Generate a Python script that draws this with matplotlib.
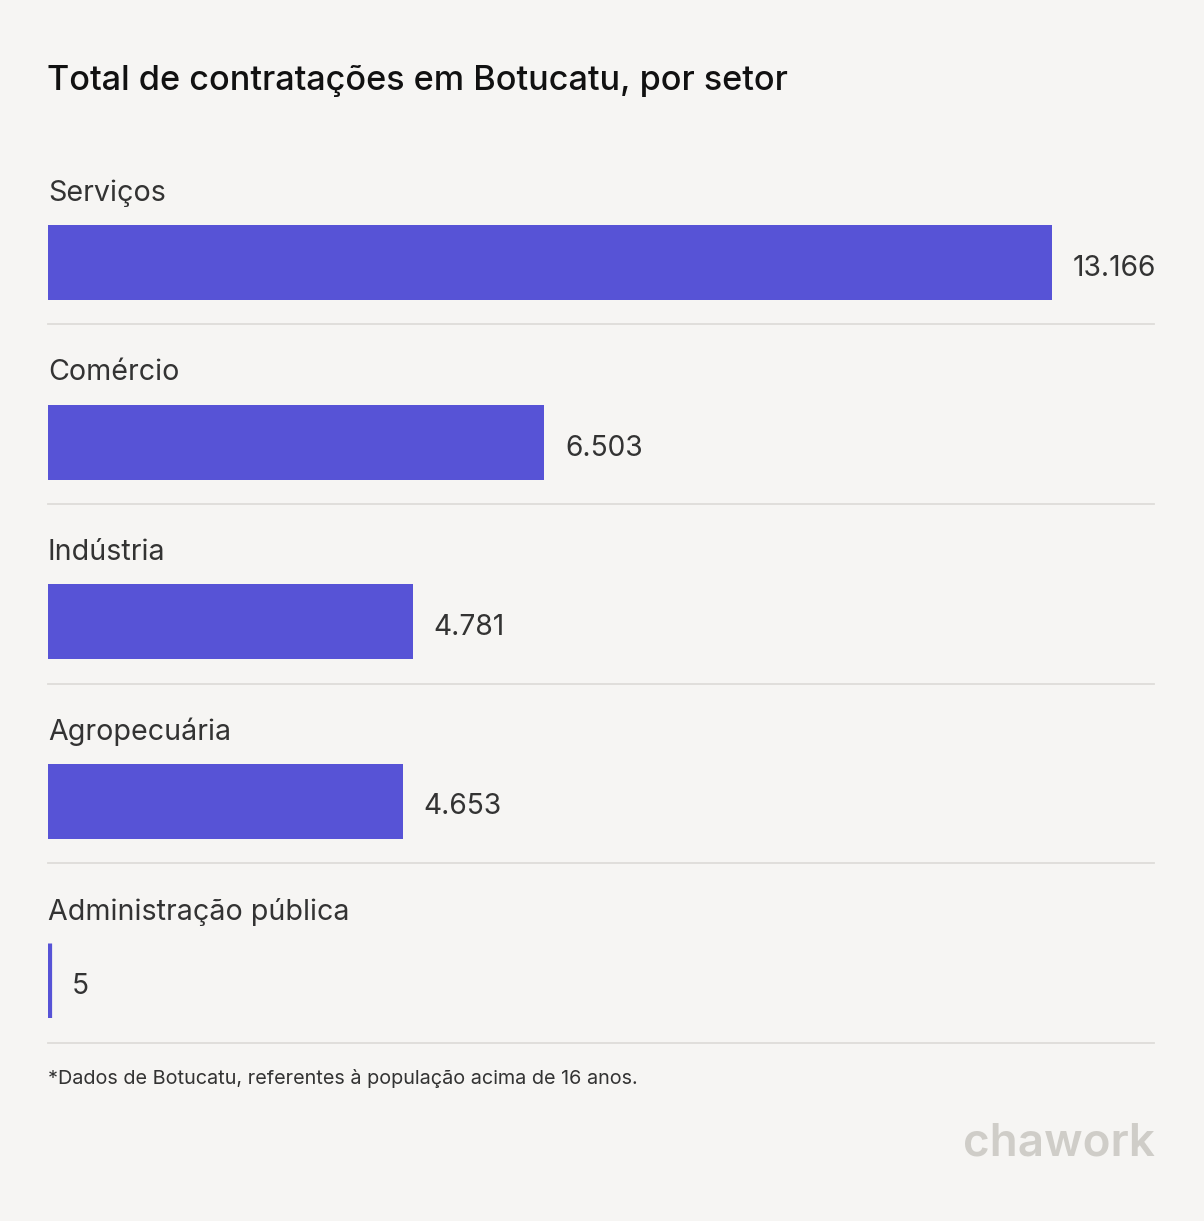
import matplotlib
matplotlib.use("Agg")
import matplotlib.pyplot as plt
from matplotlib.lines import Line2D
from matplotlib.patches import Rectangle

plt.rcParams['font.family'] = ['Inter', 'DejaVu Sans']

categories = ["Serviços", "Comércio", "Indústria", "Agropecuária", "Administração pública"]
values = [13166, 6503, 4781, 4653, 5]
value_labels = ["13.166", "6.503", "4.781", "4.653", "5"]
title = "Total de contratações em Botucatu, por setor"
footnote = "*Dados de Botucatu, referentes à população acima de 16 anos."
brand = "chawork"

W, H = 1204, 1221
BG = "#F6F5F3"
BAR = "#5753D6"
TXT = "#333333"
SEP = "#DEDCD9"

fig = plt.figure(figsize=(W / 100, H / 100), dpi=100, facecolor=BG)
ax = fig.add_axes([48 / W, 0, 1004 / W, 1], facecolor="none")
ax.set_xlim(0, max(values))
ax.set_ylim(H, 0)
ax.axis("off")

step = 179.5
first_center = 262.5
bar_h = 75
centers = [first_center + i * step for i in range(len(categories))]

bars = ax.barh(centers, values, height=bar_h, color=BAR, left=0, linewidth=0)
# outline gives tiny bars a visible minimum width (clipped to the bar's own band)
for rect, v, c in zip(bars, values, centers):
    if v < 0.005 * max(values):
        rect.set_edgecolor(BAR)
        rect.set_linewidth(5.2)
        clip = Rectangle((0, c - bar_h / 2), max(values), bar_h, transform=ax.transData)
        rect.set_clip_path(clip)

px_per_val = max(values) / 1004
for c, v, lab, cat in zip(centers, values, value_labels, categories):
    ax.text(v + 21 * px_per_val + (2 if v < 100 else 0) * px_per_val, c + 6, lab,
            ha="left", va="center", fontsize=20.3, color=TXT)
    ax.text(0, c - 69, cat, ha="left", va="center", fontsize=20.6, color=TXT)

for c in centers:
    ysep = c + 62
    fig.add_artist(Line2D([48 / W, 1154 / W], [1 - ysep / H, 1 - ysep / H], color=SEP, linewidth=1.3))

fig.text(47 / W, 1 - 81 / H, title, ha="left", va="center", fontsize=24.6, color="#111111", fontweight="medium")
fig.text(48 / W, 1 - 1079 / H, footnote, ha="left", va="center", fontsize=14.25, color=TXT)
fig.text(1155 / W, 1 - 1143 / H, brand, ha="right", va="center", fontsize=33, color="#CFCDC8", fontweight="semibold")

fig.savefig("out.png", dpi=100, facecolor=BG)
